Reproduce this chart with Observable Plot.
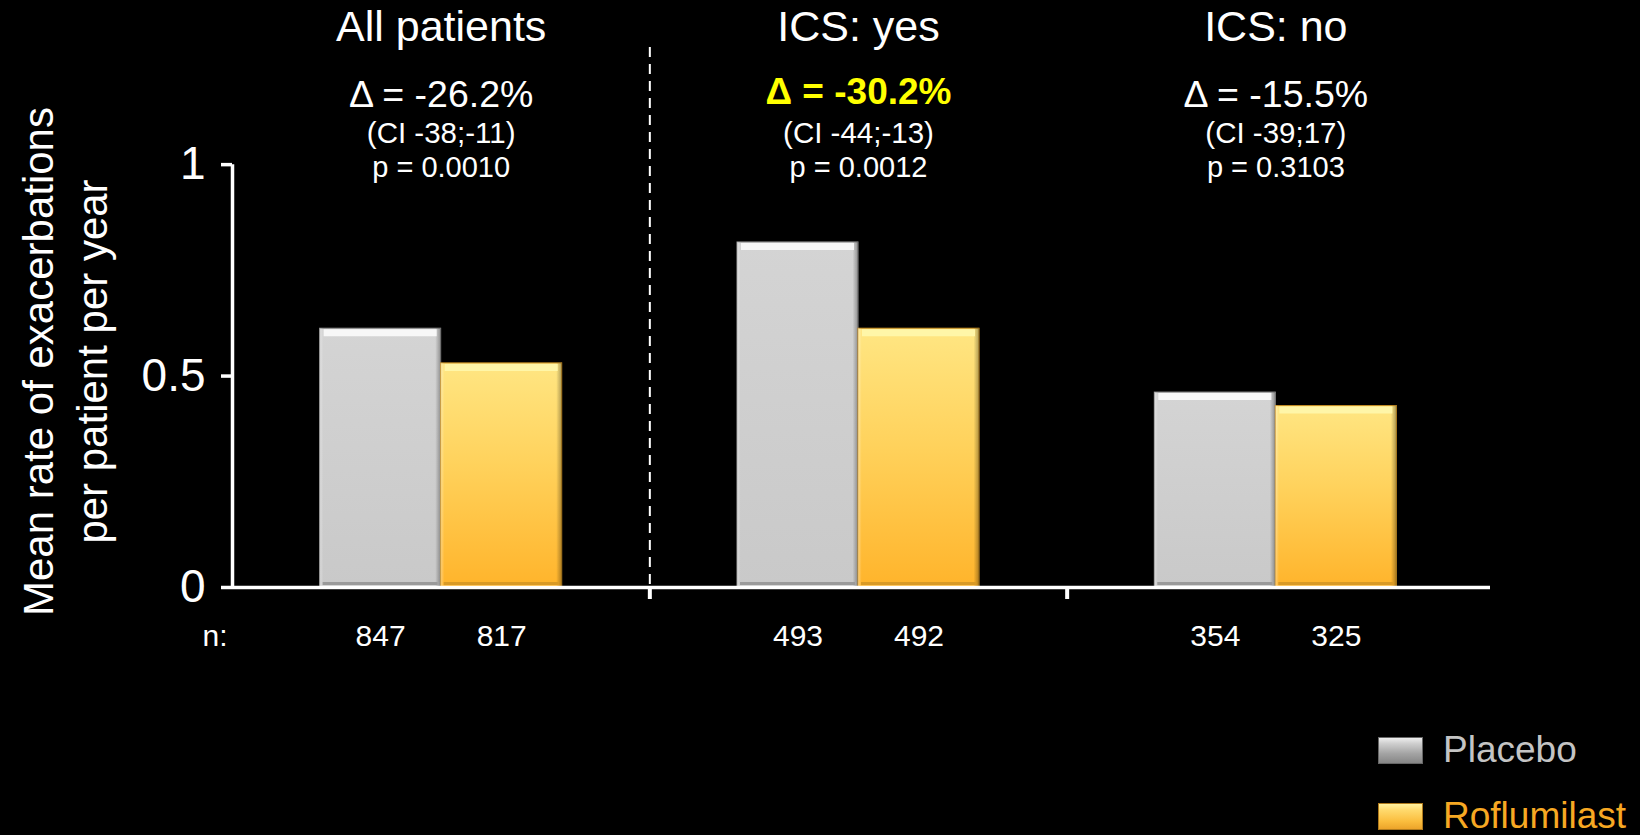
<!DOCTYPE html>
<html>
<head>
<meta charset="utf-8">
<script src="https://cdn.jsdelivr.net/npm/d3@7"></script>
<script src="https://cdn.jsdelivr.net/npm/@observablehq/plot@0.6"></script>
<style>
  html, body { margin: 0; padding: 0; background: #000; overflow: hidden; }
  #chart { position: relative; width: 1640px; height: 835px; font-family: "Liberation Sans", Arial, sans-serif; }
  .legend-row { position: absolute; left: 1378px; height: 42px; display: flex; align-items: center; white-space: nowrap; font-size: 37px; }
  .swatch { width: 45px; height: 27px; box-sizing: border-box; margin-right: 20px; }
</style>
</head>
<body>
<div id="chart"></div>
<script>
// Subgroups and treatment arms
const groups = ["All patients", "ICS: yes", "ICS: no"];
const treatments = ["Placebo", "Roflumilast"];

// Mean rate of exacerbations per patient per year
const placeboRate = [0.612, 0.816, 0.461];
const roflumilastRate = [0.530, 0.612, 0.429];

// Number of patients per arm
const placeboN = [847, 493, 354];
const roflumilastN = [817, 492, 325];

// Relative change, confidence interval and p-value per subgroup
const deltaPct = [-26.2, -30.2, -15.5];
const ciLow = [-38, -44, -39];
const ciHigh = [-11, -13, 17];
const pValues = [0.0010, 0.0012, 0.3103];
const highlighted = [false, true, false];

const yTicks = [0, 0.5, 1];
const yTop = 1.277;       // headroom above the axis for the annotations
const barWidth = 0.29;    // width of each bar, as a share of a subgroup

const arms = {
  Placebo: {rate: placeboRate, n: placeboN, fill: "url(#fillPlacebo)", edge: "#8c8c8c", top: "#f7f7f7", bottom: "#9a9a9a",
            swatch: "linear-gradient(#eeeeee 0%, #cfcfcf 22%, #a4a4a4 62%, #868686 100%)", swatchBorder: "#666", text: "#c4c4c4"},
  Roflumilast: {rate: roflumilastRate, n: roflumilastN, fill: "url(#fillRoflumilast)", edge: "#c98f22", top: "#fff6a8", bottom: "#d99a26",
            swatch: "linear-gradient(#fff2a0 0%, #ffd96c 25%, #fabd3d 70%, #eca42a 100%)", swatchBorder: "#b07a1c", text: "#f7a823"}
};

const rows = groups.flatMap((group, i) => treatments.map((trt, j) => ({
  group, i, trt,
  rate: arms[trt].rate[i],
  n: arms[trt].n[i],
  x1: j === 0 ? i + 0.5 - barWidth : i + 0.5,
  x2: j === 0 ? i + 0.5 : i + 0.5 + barWidth
})));

const info = groups.map((group, i) => ({
  group, i,
  delta: `Δ = ${deltaPct[i].toFixed(1)}%`,
  ci: `(CI ${ciLow[i]};${ciHigh[i]})`,
  p: `p = ${pValues[i].toFixed(4)}`,
  highlight: highlighted[i]
}));

// Gradients used for the bevelled bar look
function gradients() {
  const defs = d3.create("svg:defs");
  const grad = (id, stops, horizontal = false) => {
    const g = defs.append("linearGradient").attr("id", id)
      .attr("x1", 0).attr("y1", 0).attr("x2", horizontal ? 1 : 0).attr("y2", horizontal ? 0 : 1);
    for (const [offset, color, opacity = 1] of stops)
      g.append("stop").attr("offset", offset).attr("stop-color", color).attr("stop-opacity", opacity);
  };
  grad("fillPlacebo", [[0, "#d4d4d4"], [1, "#c9c9c9"]]);
  grad("fillRoflumilast", [[0, "#ffe683"], [0.45, "#ffd25c"], [1, "#ffb42b"]]);
  grad("edgeShade", [[0, "#ffffff", 0.35], [0.03, "#ffffff", 0], [0.955, "#000000", 0], [1, "#000000", 0.32]], true);
  return defs.node();
}

const center = (d) => d.i + 0.5;
const barMarks = treatments.flatMap((trt) => {
  const a = arms[trt];
  const data = rows.filter((d) => d.trt === trt);
  return [
    Plot.rectY(data, {x1: "x1", x2: "x2", y1: 0, y2: "rate", fill: a.fill, stroke: a.edge, strokeWidth: 1}),
    Plot.rectY(data, {x1: "x1", x2: "x2", y1: 0, y2: "rate", fill: "url(#edgeShade)"}),
    Plot.ruleY(data, {x1: "x1", x2: "x2", y: "rate", dy: 4, stroke: a.top, strokeWidth: 7, insetLeft: 4, insetRight: 4}),
    Plot.ruleY(data, {x1: "x1", x2: "x2", y: 0, dy: -4, stroke: a.bottom, strokeWidth: 3, insetLeft: 3, insetRight: 3})
  ];
});

const topText = {frameAnchor: "top", lineAnchor: "middle", textAnchor: "middle"};

const plot = Plot.plot({
  width: 1640,
  height: 835,
  marginTop: 47,
  marginBottom: 248,
  marginLeft: 232,
  marginRight: 156,
  x: {domain: [0, groups.length], axis: null},
  y: {domain: [0, yTop], axis: null},
  style: {background: "#000", color: "#fff", fontFamily: "'Liberation Sans', Arial, sans-serif"},
  marks: [
    gradients,
    // dashed divider between the overall population and the ICS subgroups
    Plot.ruleX([1], {stroke: "#fff", strokeWidth: 2, strokeDasharray: "10,7"}),
    ...barMarks,
    Plot.ruleY([0], {stroke: "#fff", strokeWidth: 3.5, insetRight: -6}),
    Plot.ruleX([0], {y1: 0, y2: 1, stroke: "#fff", strokeWidth: 3.5}),
    Plot.axisY(yTicks, {tickSize: 11, tickPadding: 16, fontSize: 46, strokeWidth: 3.5, label: null, tickFormat: (d) => String(d)}),
    Plot.axisX(d3.range(1, groups.length), {tickSize: 12, strokeWidth: 4, label: null, tickFormat: () => ""}),
    // y-axis title
    Plot.text(["Mean rate of exacerbations\nper patient per year"], {
      frameAnchor: "left", textAnchor: "middle", lineAnchor: "middle",
      dx: -170, dy: 44, rotate: -90, fontSize: 42, lineHeight: 1.3, fill: "#fff"
    }),
    // subgroup headers and statistics
    Plot.text(info, {...topText, x: center, dy: -20, text: "group", fontSize: 43, fill: "#fff"}),
    Plot.text(info.filter((d) => !d.highlight), {...topText, x: center, dy: 47, text: "delta", fontSize: 37.5, fill: "#fff"}),
    Plot.text(info.filter((d) => d.highlight), {...topText, x: center, dy: 45, text: "delta", fontSize: 37, fontWeight: "bold", fill: "#ffff00"}),
    Plot.text(info, {...topText, x: center, dy: 86, text: "ci", fontSize: 29.5, fill: "#fff"}),
    Plot.text(info, {...topText, x: center, dy: 120, text: "p", fontSize: 29, fill: "#fff"}),
    // patient counts under each bar
    Plot.text(["n:"], {x: 0, frameAnchor: "bottom", lineAnchor: "middle", dy: 49, dx: -5, textAnchor: "end", fontSize: 30, fill: "#fff"}),
    Plot.text(rows, {x: (d) => (d.x1 + d.x2) / 2, frameAnchor: "bottom", lineAnchor: "middle", textAnchor: "middle", dy: 49, text: (d) => String(d.n), fontSize: 30, fill: "#fff"})
  ]
});

const chart = document.getElementById("chart");
chart.appendChild(plot);

// legend
treatments.forEach((trt, k) => {
  const a = arms[trt];
  const row = document.createElement("div");
  row.className = "legend-row";
  row.style.top = (729 + 66 * k) + "px";
  const sw = document.createElement("span");
  sw.className = "swatch";
  sw.style.background = a.swatch;
  sw.style.border = "1px solid " + a.swatchBorder;
  const label = document.createElement("span");
  label.textContent = trt;
  label.style.color = a.text;
  row.append(sw, label);
  chart.appendChild(row);
});
</script>
</body>
</html>
